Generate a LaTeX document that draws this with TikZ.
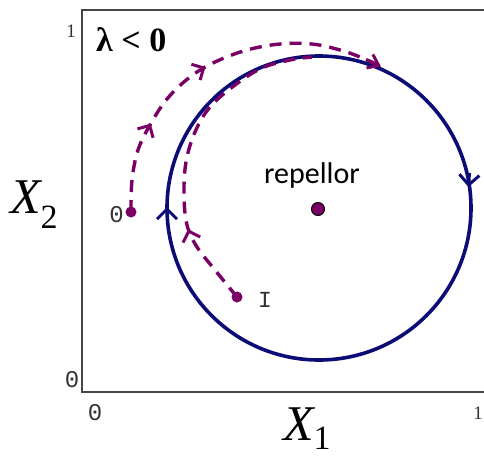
\documentclass[tikz,border=0pt]{standalone}
\usepackage{fontspec}
\setmainfont{Liberation Serif}
\newfontfamily\calib{Carlito}
\newfontfamily\monof{Liberation Mono}
\usetikzlibrary{arrows.meta,decorations.markings}
\definecolor{navyc}{RGB}{12,12,118}
\definecolor{purp}{RGB}{122,0,102}
\definecolor{framec}{RGB}{70,70,70}
\begin{document}
\begin{tikzpicture}[x=1pt,y=-1pt,
  limit/.style={draw=navyc, line width=3.6pt},
  limarrow/.style={draw=navyc, line width=3pt, -{Straight Barb[length=10pt,width=20pt]}},
  traj/.style={draw=purp, line width=3.4pt, dash pattern=on 12pt off 8pt},
  startdot/.style={circle, fill=purp, inner sep=0pt, minimum size=11pt},
  tick/.style={font=\monof\fontsize{24}{24}\selectfont, text=black!80, inner sep=0pt},
  ticks/.style={font=\fontsize{19}{19}\selectfont, text=black!80, inner sep=0pt},
  axlab/.style={inner sep=0pt}]
\useasboundingbox (0,0) rectangle (484,455);
\fill[white] (0,0) rectangle (484,455);
% frame
\draw[framec, line width=1.8pt] (484,10) -- (82,10) -- (82,392) -- (484,392);
% tick labels
\node[ticks] (t1y) at (71,31) {1};
\node[tick] (t0y) at (72,380) {0};
\node[tick] (t0x) at (95,413) {0};
\node[ticks] (t1x) at (478,413) {1};
% axis labels
\node[axlab, anchor=base west] (x2) at (10,213) {\fontsize{50}{50}\selectfont\itshape X\raisebox{-0.30em}{\upshape\fontsize{34}{34}\selectfont 2}};
\node[axlab, anchor=base west] (x1) at (283,440) {\fontsize{50}{50}\selectfont\itshape X\raisebox{-0.18em}{\upshape\fontsize{34}{34}\selectfont 1}};
% lambda label
\node[inner sep=0pt, anchor=base west] (lam) at (96,51) {\fontsize{34}{34}\selectfont\bfseries λ < 0};
% limit cycle
\coordinate (c) at (319,208);
\draw[limit] (c) circle[radius=152];
\coordinate (la1) at (167,220);
\coordinate (la2) at (167,207);
\draw[limarrow] (la1) -- (la2);
\coordinate (ra1) at (469.5,173);
\coordinate (ra2) at (468.5,187);
\draw[limarrow] (ra1) -- (ra2);
% repellor
\node[circle, fill=purp, draw=black, line width=1pt, minimum size=13pt, inner sep=0pt] (rep) at (318,209) {};
\node[font=\calib\fontsize{30}{30}\selectfont, anchor=base, inner sep=0pt] (replab) at (312,183) {repellor};
% trajectory O
\node[startdot] (o) at (131,212) {};
\node[tick, anchor=east] (olab) at (124,215) {0};
\draw[traj, postaction={decorate}, decoration={markings,
    mark=at position 92pt with {\arrow[purp, line width=3pt]{Straight Barb[length=9pt,width=18pt]}},
    mark=at position 172pt with {\arrow[purp, line width=3pt]{Straight Barb[length=9pt,width=18pt]}}}]
  plot[smooth, tension=0.6] coordinates {(131,212) (132,180) (138,150) (150,125) (167,99) (190,77) (215,62) (247,50) (280,44) (312,44) (340,50) (360,57) (378,65)};
\coordinate (oe1) at (366,59.5);
\coordinate (oe2) at (381,66.5);
\draw[purp, line width=3pt, -{Straight Barb[length=10pt,width=15pt]}] (oe1) -- (oe2);
% trajectory I
\node[startdot] (i) at (237,297) {};
\node[font=\monof\fontsize{23}{23}\selectfont, text=black!80, inner sep=0pt] (ilab) at (265,300) {I};
\draw[traj, postaction={decorate}, decoration={markings,
    mark=at position 84pt with {\arrow[purp, line width=3pt]{Straight Barb[length=9pt,width=18pt]}}}]
  plot[smooth, tension=0.6] coordinates {(237,297) (215,270) (197,247) (187,225) (184,195) (186,162) (195,132) (210,107) (235,85) (262,68) (290,60) (312,57)};
\end{tikzpicture}
\end{document}
